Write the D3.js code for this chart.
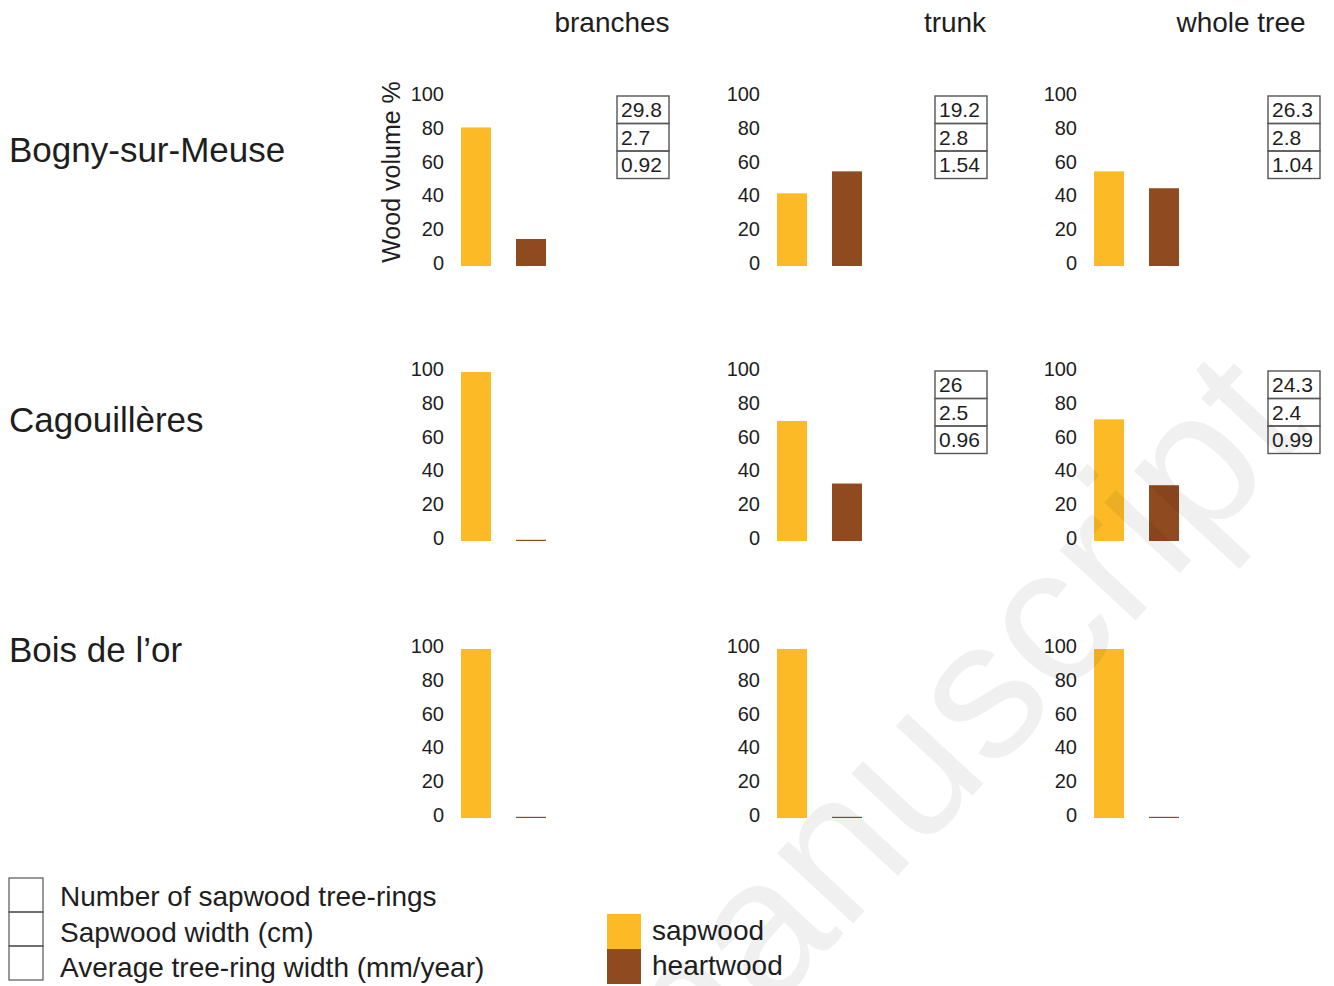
<!DOCTYPE html>
<html>
<head>
<meta charset="utf-8">
<script src="https://cdn.jsdelivr.net/npm/d3@7"></script>
<style>
  body { margin: 0; background: #fff; }
  svg { display: block; font-family: "Liberation Sans", Arial, sans-serif; }
</style>
</head>
<body>
<svg class="chart"></svg>
<script>
(function () {
    'use strict';

    // data
    var sites = ["Bogny-sur-Meuse", "Cagouillères", "Bois de l’or"];
    var parts = ["branches", "trunk", "whole tree"];
    var woodTypes = ["sapwood", "heartwood"];
    // wood volume % per site (rows) and part (columns)
    var sapwood = [
        [82, 43, 56],
        [100, 71, 72],
        [100, 100, 100]
    ];
    var heartwood = [
        [16, 56, 46],
        [0.7, 34, 33],
        [0.7, 0.7, 0.7]
    ];
    // number of sapwood rings, sapwood width (cm), average ring width (mm/year)
    var ringStats = [
        [[29.8, 2.7, 0.92], [19.2, 2.8, 1.54], [26.3, 2.8, 1.04]],
        [null, [26, 2.5, 0.96], [24.3, 2.4, 0.99]],
        [null, null, null]
    ];
    var statLabels = ["Number of sapwood tree-rings", "Sapwood width (cm)", "Average tree-ring width (mm/year)"];
    var yTicks = [0, 20, 40, 60, 80, 100];

    // layout
    var W = 1334, H = 986;
    var colX = [461, 777, 1094];      // left edge of the sapwood bar
    var boxX = [617, 935, 1268];
    var rowBase = [266, 541, 818];    // pixel of 0 %
    var panelH = 169;
    var colours = {sapwood: "#fbba26", heartwood: "#8f4a1f"};
    var ink = "#1e1e1e";

    var svg = d3.select(".chart").attr("width", W).attr("height", H);

    var x = d3.scaleBand().domain(woodTypes).range([0, 85]).paddingInner(25 / 55);

    // column titles
    var titleX = [612, 955, 1241];
    svg.selectAll(".col-title").data(parts).enter().append("text")
        .attr("class", "col-title")
        .attr("x", function (d, i) { return titleX[i]; })
        .attr("y", 32)
        .attr("text-anchor", "middle")
        .style("font-size", "28px")
        .style("fill", ink)
        .text(function (d) { return d; });

    // row labels
    var labelY = [162, 432, 662];
    svg.selectAll(".row-title").data(sites).enter().append("text")
        .attr("class", "row-title")
        .attr("x", 9)
        .attr("y", function (d, i) { return labelY[i]; })
        .style("font-size", "35px")
        .style("fill", ink)
        .text(function (d) { return d; });

    sites.forEach(function (site, r) {
        var y = d3.scaleLinear().domain([0, 100]).range([rowBase[r], rowBase[r] - panelH]);

        parts.forEach(function (part, c) {
            var g = svg.append("g").attr("transform", "translate(" + colX[c] + ",0)");

            // y axis labels only
            var axis = g.append("g")
                .attr("transform", "translate(-17,-3)")
                .call(d3.axisLeft(y).tickValues(yTicks).tickSize(0).tickPadding(0));
            axis.select(".domain").remove();
            axis.selectAll("text")
                .style("font-size", "20px")
                .style("font-family", "Liberation Sans, Arial, sans-serif")
                .style("fill", ink);

            var vals = [
                {type: "sapwood", v: sapwood[r][c]},
                {type: "heartwood", v: heartwood[r][c]}
            ];
            g.selectAll("rect.bar").data(vals).enter().append("rect")
                .attr("class", "bar")
                .attr("x", function (d) { return x(d.type); })
                .attr("width", x.bandwidth())
                .attr("y", function (d) { return y(d.v); })
                .attr("height", function (d) { return y(0) - y(d.v); })
                .style("fill", function (d) { return colours[d.type]; });

            // stat box
            var stats = ringStats[r][c];
            if (stats) {
                var cellH = 27.5, top = y(100) - 1;
                var box = svg.append("g").attr("transform", "translate(" + boxX[c] + "," + top + ")");
                box.selectAll("rect").data(stats).enter().append("rect")
                    .attr("x", 0)
                    .attr("y", function (d, i) { return i * cellH; })
                    .attr("width", 52)
                    .attr("height", cellH)
                    .style("fill", "none")
                    .style("stroke", "#555")
                    .style("stroke-width", 1.4);
                box.selectAll("text").data(stats).enter().append("text")
                    .attr("x", 4)
                    .attr("y", function (d, i) { return i * cellH + cellH / 2 + 7.5; })
                    .style("font-size", "21px")
                    .style("fill", ink)
                    .text(function (d) { return d; });
            }

            if (r === 0 && c === 0) {
                svg.append("text")
                    .attr("transform", "translate(400,172) rotate(-90)")
                    .attr("text-anchor", "middle")
                    .style("font-size", "25px")
                    .style("fill", ink)
                    .text("Wood volume %");
            }
        });
    });

    // legend: stat boxes
    var leg = svg.append("g").attr("transform", "translate(9,878)");
    leg.selectAll("rect").data(statLabels).enter().append("rect")
        .attr("x", 0)
        .attr("y", function (d, i) { return i * 34; })
        .attr("width", 34)
        .attr("height", 34)
        .style("fill", "none")
        .style("stroke", "#555")
        .style("stroke-width", 1.2);
    leg.selectAll("text").data(statLabels).enter().append("text")
        .attr("x", 51)
        .attr("y", function (d, i) { return i * 35.5 + 28; })
        .style("font-size", "28px")
        .style("fill", ink)
        .text(function (d) { return d; });

    // legend: wood types
    var leg2 = svg.append("g").attr("transform", "translate(607,914)");
    leg2.selectAll("rect").data(woodTypes).enter().append("rect")
        .attr("x", 0)
        .attr("y", function (d, i) { return i * 35; })
        .attr("width", 34)
        .attr("height", 35)
        .style("fill", function (d) { return colours[d]; });
    leg2.selectAll("text").data(woodTypes).enter().append("text")
        .attr("x", 45)
        .attr("y", function (d, i) { return i * 35 + 26; })
        .style("font-size", "28px")
        .style("fill", ink)
        .text(function (d) { return d; });

    // watermark
    svg.append("text")
        .attr("transform", "translate(985,782) rotate(-47)")
        .attr("text-anchor", "middle")
        .style("font-size", "196px")
        .style("fill", "#000")
        .style("fill-opacity", 0.06)
        .text("manuscript");
})();
</script>
</body>
</html>
